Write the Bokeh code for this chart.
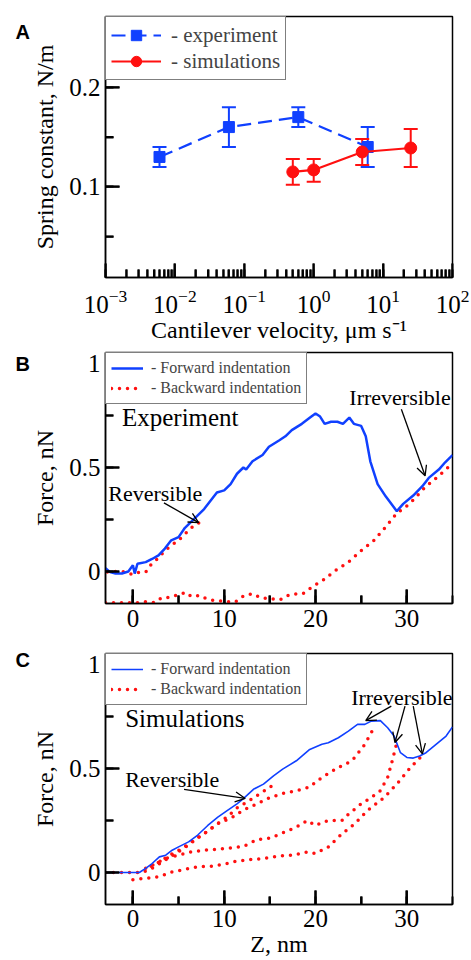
import numpy as np
from bokeh.plotting import figure
from bokeh.layouts import column
from bokeh.models import (Range1d, Whisker, TeeHead, ColumnDataSource, Legend, LegendItem,
                          SingleIntervalTicker, Label, Arrow, OpenHead, CustomJSTickFormatter)
from bokeh.embed import file_html
from bokeh.resources import INLINE

# ---------------- data: panel A ----------------
exp_v = [0.006, 0.06, 0.6, 6.0]
exp_k = [0.13, 0.16, 0.17, 0.14]
exp_lo = [0.12, 0.14, 0.16, 0.12]
exp_hi = [0.14, 0.18, 0.18, 0.16]
sim_v = [0.5, 1.0, 5.0, 25.0]
sim_k = [0.115, 0.117, 0.135, 0.139]
sim_lo = [0.102, 0.105, 0.122, 0.12]
sim_hi = [0.128, 0.128, 0.148, 0.158]

# ticks
a_x_decades = [1e-3, 1e-2, 1e-1, 1e0, 1e1, 1e2]
a_y_major = [0.1, 0.2]
a_y_minor = [0.05, 0.15, 0.25]
f_x_major = [0, 10, 20, 30]
f_x_minor = [5, 15, 25]
f_y_major = [0.0, 0.5, 1.0]
f_y_minor = [0.25, 0.75]

# ---------------- data: panel B (experiment) ----------------
b_fwd_z = [-3.0, -2.5, -1.9, -1.2, -0.5, 0.0, 0.2, 0.5, 1.4, 2.1, 2.8, 3.5, 4.2, 5.0, 5.7, 6.4, 7.1,
           7.8, 8.5, 9.2, 10.0, 10.7, 11.4, 12.1, 12.4, 13.1, 14.2, 14.9, 16.0, 16.7, 17.4, 18.5,
           19.4, 20.0, 20.5, 21.0, 21.7, 22.4, 23.0, 23.7, 24.2, 25.0, 25.5, 26.0, 26.8, 27.7,
           28.9, 29.6, 30.7, 31.7, 32.4, 33.5, 34.2, 35.0]
b_fwd_f = [0.016, -0.003, -0.01, -0.01, 0.0, 0.03, -0.01, 0.037, 0.045, 0.06, 0.077, 0.11, 0.15,
           0.165, 0.21, 0.24, 0.27, 0.30, 0.34, 0.38, 0.39, 0.42, 0.47, 0.50, 0.49, 0.53, 0.56,
           0.60, 0.63, 0.65, 0.68, 0.71, 0.74, 0.76, 0.745, 0.71, 0.72, 0.72, 0.71, 0.74, 0.71,
           0.70, 0.65, 0.53, 0.42, 0.36, 0.29, 0.325, 0.365, 0.41, 0.45, 0.49, 0.525, 0.56]
b_rev_z = [-2.8, -2.1, -1.2, 0.0, 0.6, 1.4, 2.0, 2.8, 3.5, 4.2, 5.0, 5.7, 6.4, 7.1, 7.4]
b_rev_f = [-0.003, 0.0, 0.0, -0.015, -0.005, -0.003, 0.034, 0.065, 0.10, 0.125, 0.15, 0.18,
           0.21, 0.23, 0.24]
b_irr_z = [-3.0, -1.0, 0.6, 1.4, 2.3, 3.2, 4.0, 5.1, 5.8, 6.4, 7.3, 8.0, 8.9, 10.0, 11.2, 12.2,
           13.1, 14.0, 15.0, 16.1, 17.2, 18.6, 19.7, 20.8, 22.2, 23.6, 25.0, 26.4, 27.6, 28.9,
           30.3, 32.0, 33.5, 35.0]
b_irr_f = [-0.15, -0.15, -0.15, -0.145, -0.15, -0.125, -0.125, -0.11, -0.10, -0.12, -0.115,
           -0.13, -0.14, -0.144, -0.147, -0.115, -0.107, -0.127, -0.13, -0.136, -0.11, -0.107,
           -0.072, -0.043, 0.005, 0.045, 0.10, 0.15, 0.21, 0.28, 0.325, 0.405, 0.46, 0.52]

# ---------------- data: panel C (simulations) ----------------
c_fwd_z = [-3.0, 0.0, 0.7, 1.4, 2.1, 2.9, 3.6, 4.3, 5.0, 6.1, 7.1, 8.2, 9.3, 10.4, 11.4, 12.1,
           13.2, 14.3, 15.4, 16.4, 17.9, 19.3, 20.7, 21.4, 22.5, 23.6, 24.6, 25.4, 26.1, 27.1,
           27.9, 28.6, 29.3, 30.0, 30.7, 31.4, 32.1, 33.2, 34.3, 35.0]
c_fwd_f = [0.0, 0.0, 0.0, 0.02, 0.043, 0.075, 0.083, 0.107, 0.123, 0.147, 0.18, 0.226, 0.266,
           0.30, 0.33, 0.355, 0.40, 0.425, 0.465, 0.497, 0.537, 0.59, 0.617, 0.624, 0.648, 0.68,
           0.712, 0.712, 0.728, 0.73, 0.696, 0.656, 0.576, 0.553, 0.55, 0.56, 0.576, 0.616,
           0.656, 0.70]
c_r1_z = [-3.0, -1.5, 0.0, 1.0, 2.1, 3.2, 4.3, 5.7, 7.1, 8.2, 9.3, 10.4, 11.4, 12.9, 14.3, 15.5]
c_r1_f = [0.0, 0.0, 0.0, 0.0, 0.02, 0.05, 0.08, 0.12, 0.165, 0.20, 0.235, 0.27, 0.31, 0.35,
          0.39, 0.425]
c_r2_z = [2.0, 2.9, 3.9, 5.4, 6.8, 7.9, 9.3, 10.7, 12.1, 13.6, 15.0, 16.4, 17.9, 19.3, 20.7,
          22.5, 24.0, 25.4, 26.4]
c_r2_f = [0.03, 0.05, 0.08, 0.115, 0.16, 0.19, 0.235, 0.26, 0.30, 0.33, 0.36, 0.38, 0.393,
          0.41, 0.457, 0.505, 0.537, 0.616, 0.696]
c_r3_z = [1.4, 2.5, 3.6, 5.0, 6.4, 7.9, 9.3, 10.7, 12.1, 13.6, 15.0, 16.4, 17.9, 19.1, 20.0,
          21.0, 21.8, 22.9, 23.6, 25.0, 26.1, 27.1, 27.9, 28.4, 28.9]
c_r3_f = [0.02, 0.043, 0.067, 0.083, 0.099, 0.107, 0.112, 0.118, 0.125, 0.158, 0.165, 0.19,
          0.218, 0.25, 0.226, 0.245, 0.25, 0.25, 0.28, 0.33, 0.36, 0.393, 0.457, 0.537, 0.624]
c_r4_z = [0.0, 1.4, 2.9, 4.3, 5.7, 7.1, 8.6, 10.0, 11.4, 12.9, 14.3, 16.1, 17.5, 19.1, 20.0,
          21.4, 22.9, 24.3, 25.7, 27.5, 28.9, 30.4, 31.8]
c_r4_f = [-0.035, -0.028, -0.02, 0.003, 0.015, 0.027, 0.03, 0.04, 0.055, 0.062, 0.067, 0.08,
          0.083, 0.099, 0.091, 0.123, 0.186, 0.234, 0.298, 0.36, 0.425, 0.505, 0.568]

BLUE = "#1040ff"
RED = "#ff1010"
SERIF = "Liberation Serif"
W = 471
MAJ, MIN = 14, 8  # tick lengths, px


def style(p, tw=2.0):
    p.grid.visible = False
    p.outline_line_color = "black"
    p.outline_line_width = 1.5
    for ax in (p.xaxis, p.yaxis):
        ax.axis_line_width = 1.5
        ax.major_tick_in = MAJ
        ax.major_tick_out = 0
        ax.minor_tick_in = MIN
        ax.minor_tick_out = 0
        ax.major_tick_line_width = tw
        ax.minor_tick_line_width = tw
        ax.major_tick_line_color = "black"
        ax.minor_tick_line_color = "black"
        ax.major_label_text_font = SERIF
        ax.major_label_text_font_size = "25px"
        ax.major_label_text_color = "black"
        ax.axis_label_text_font = SERIF
        ax.axis_label_text_font_size = "24px"
        ax.axis_label_text_font_style = "normal"
        ax.axis_label_text_color = "black"
    p.yaxis.major_label_standoff = 5
    p.yaxis.axis_label_standoff = 8


def tick_src(xmaj, xmin, ymaj, ymin, xr, yr, fw, fh, logx=False):
    dy = (yr[1] - yr[0]) / fh
    if logx:
        lx0, lx1 = np.log10(xr[0]), np.log10(xr[1])
        x_at = lambda L: 10 ** (lx0 + L * (lx1 - lx0) / fw)
    else:
        x_at = lambda L: xr[0] + L * (xr[1] - xr[0]) / fw
    x0, y0, x1, y1 = [], [], [], []
    for ticks, L in ((xmaj, MAJ), (xmin, MIN)):
        for t in ticks:
            x0.append(t); x1.append(t); y0.append(yr[0]); y1.append(yr[0] + L * dy)
    for ticks, L in ((ymaj, MAJ), (ymin, MIN)):
        for t in ticks:
            x0.append(xr[0]); x1.append(x_at(L)); y0.append(t); y1.append(t)
    return x0, y0, x1, y1


def panel_letter(p, letter, y):
    p.add_layout(Label(x=0, y=y, x_units="screen", y_units="screen", text=letter,
                       text_font="Liberation Sans", text_font_style="bold",
                       text_font_size="20px", text_baseline="top", text_color="black"),
                 "left")


fmt = CustomJSTickFormatter(code="return String(Math.round(tick*100)/100)")

# ---------------- panel A ----------------
A_XR, A_YR = (1e-3, 1e2), (0.009, 0.271)
A_FW, A_FH = 347, 262
pA = figure(width=W, height=345, x_axis_type="log", x_range=Range1d(*A_XR),
            y_range=Range1d(*A_YR), output_backend="svg", toolbar_location=None,
            min_border_left=105, min_border_right=W - 105 - A_FW, min_border_top=16,
            min_border_bottom=345 - 16 - A_FH)
style(pA)
pA.yaxis.ticker = SingleIntervalTicker(interval=0.1, num_minor_ticks=2)
pA.yaxis.formatter = fmt
pA.xaxis.axis_label = "Cantilever velocity, μm s⁻¹"
pA.yaxis.axis_label = "Spring constant, N/m"
pA.xaxis.major_label_standoff = 12
pA.xaxis.axis_label_standoff = 1
a_x_minor = [m * d for d in a_x_decades[:-1] for m in range(2, 10)]
tx0, ty0, tx1, ty1 = tick_src(a_x_decades, a_x_minor, a_y_major, a_y_minor, A_XR, A_YR,
                              A_FW, A_FH, logx=True)
pA.segment(x0=tx0, y0=ty0, x1=tx1, y1=ty1, line_color="black", line_width=2)

src_e = ColumnDataSource(dict(x=exp_v, y=exp_k, lo=exp_lo, hi=exp_hi))
src_s = ColumnDataSource(dict(x=sim_v, y=sim_k, lo=sim_lo, hi=sim_hi))
for src, col in ((src_e, BLUE), (src_s, RED)):
    pA.add_layout(Whisker(base="x", lower="lo", upper="hi", source=src, line_color=col,
                          line_width=2,
                          upper_head=TeeHead(size=14, line_color=col, line_width=2),
                          lower_head=TeeHead(size=14, line_color=col, line_width=2)))
le = pA.line("x", "y", source=src_e, line_color=BLUE, line_width=2.2, line_dash="14 7")
me = pA.scatter("x", "y", source=src_e, marker="square", size=11, color=BLUE)
ls = pA.line("x", "y", source=src_s, line_color=RED, line_width=2.2)
ms = pA.scatter("x", "y", source=src_s, marker="circle", size=12, color=RED)
legA = Legend(items=[LegendItem(label="- experiment", renderers=[le, me]),
                     LegendItem(label="- simulations", renderers=[ls, ms])],
              location="top_left", margin=0, padding=5, spacing=0,
              glyph_width=50, glyph_height=26, label_height=26, label_standoff=10,
              label_text_font=SERIF, label_text_font_size="21px",
              border_line_color="black", border_line_width=1.5,
              background_fill_alpha=1.0)
pA.add_layout(legA)
panel_letter(pA, "A", A_FH - 5)

F_XR, F_YR = (-3, 35), (-0.154, 1.053)
F_FW, F_FH = 356, 251


def force_fig(height, top, lab_standoff, tw):
    p = figure(width=W, height=height, x_range=Range1d(*F_XR), y_range=Range1d(*F_YR),
               output_backend="svg", toolbar_location=None,
               min_border_left=105, min_border_right=W - 105 - F_FW, min_border_top=top,
               min_border_bottom=height - top - F_FH)
    style(p, tw)
    p.xaxis.ticker = SingleIntervalTicker(interval=10, num_minor_ticks=2)
    p.yaxis.ticker = SingleIntervalTicker(interval=0.5, num_minor_ticks=2)
    p.yaxis.formatter = fmt
    p.xaxis.major_label_standoff = lab_standoff
    p.yaxis.axis_label = "Force, nN"
    return p


def force_legend(p, fwd, bwd):
    leg = Legend(items=[LegendItem(label="- Forward indentation", renderers=[fwd]),
                        LegendItem(label="- Backward indentation", renderers=[bwd])],
                 location="top_left", margin=0, padding=5, spacing=0,
                 glyph_width=32, glyph_height=20, label_height=20, label_standoff=8,
                 label_text_font=SERIF, label_text_font_size="16px",
                 border_line_color="black", border_line_width=1.5,
                 background_fill_alpha=1.0)
    p.add_layout(leg)


def txt(p, x, y, s, size):
    p.add_layout(Label(x=x, y=y, text=s, text_font=SERIF, text_font_size=size,
                       text_baseline="middle", text_color="black"))


def arrow(p, x0, y0, x1, y1):
    p.add_layout(Arrow(x_start=x0, y_start=y0, x_end=x1, y_end=y1, line_color="black",
                       line_width=1.3,
                       end=OpenHead(size=10, line_color="black", line_width=1.3)))


ftx0, fty0, ftx1, fty1 = tick_src(f_x_major, f_x_minor, f_y_major, f_y_minor, F_XR, F_YR,
                                  F_FW, F_FH)

# ---------------- panel B ----------------
pB = force_fig(295, 7, 6, 2.0)
bb = pB.multi_line([b_rev_z, b_irr_z], [b_rev_f, b_irr_f], line_color=RED, line_width=3.5,
                   line_dash="0 8", line_cap="round")
bf = pB.line(b_fwd_z, b_fwd_f, line_color=BLUE, line_width=2.5)
pB.segment(x0=ftx0, y0=fty0, x1=ftx1, y1=fty1, line_color="black", line_width=2.2)
force_legend(pB, bf, bb)
txt(pB, -1.2, 0.74, "Experiment", "25px")
txt(pB, -2.7, 0.375, "Reversible", "22px")
txt(pB, 23.7, 0.836, "Irreversible", "22px")
arrow(pB, 3.4, 0.33, 7.2, 0.235)
arrow(pB, 29.4, 0.78, 32.0, 0.46)
panel_letter(pB, "B", F_FH)

# ---------------- panel C ----------------
pC = force_fig(320, 13, 5, 2.0)
pC.xaxis.axis_label = "Z, nm"
pC.xaxis.axis_label_standoff = 1
cb = pC.multi_line([c_r1_z, c_r2_z, c_r3_z, c_r4_z], [c_r1_f, c_r2_f, c_r3_f, c_r4_f],
                   line_color=RED, line_width=3.5, line_dash="0 8", line_cap="round")
cf = pC.line(c_fwd_z, c_fwd_f, line_color=BLUE, line_width=1.6)
pC.segment(x0=ftx0, y0=fty0, x1=ftx1, y1=fty1, line_color="black", line_width=2.2)
force_legend(pC, cf, cb)
txt(pC, -0.85, 0.74, "Simulations", "25px")
txt(pC, -0.85, 0.447, "Reversible", "22px")
txt(pC, 23.9, 0.84, "Irreversible", "22px")
arrow(pC, 5.6, 0.40, 12.3, 0.356)
arrow(pC, 28.3, 0.80, 25.5, 0.73)
arrow(pC, 29.8, 0.80, 28.7, 0.625)
arrow(pC, 30.7, 0.80, 31.7, 0.57)
panel_letter(pC, "C", F_FH + 5)

layout = column(pA, pB, pC)
open("out.html", "w").write(file_html(layout, INLINE))
